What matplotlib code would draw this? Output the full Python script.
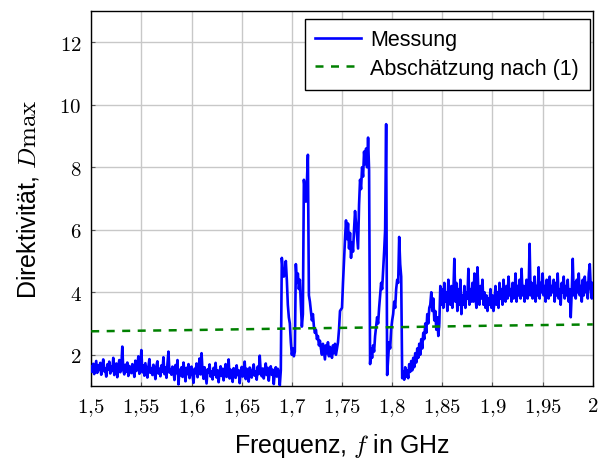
import numpy as np
import matplotlib
matplotlib.use("Agg")
import matplotlib.pyplot as plt

plt.rcParams['font.family'] = ['Liberation Sans', 'DejaVu Sans']
plt.rcParams['mathtext.fontset'] = 'cm'

# measured directivity, one value per MHz from 1,500 to 2,000 GHz
d_meas = [
    # 1.50 - 1.689
    1.62, 1.45, 1.71, 1.38, 1.58, 1.80, 1.42, 1.66, 1.51, 1.74,
    1.36, 1.60, 1.85, 1.47, 1.55, 1.30, 1.69, 1.52, 1.78, 1.40,
    1.63, 1.48, 1.90, 1.35, 1.57, 1.72, 1.28, 1.61, 1.83, 1.44,
    1.59, 2.26, 1.50, 1.37, 1.68, 1.46, 1.75, 1.32, 1.64, 1.52,
    1.41, 1.70, 1.55, 1.29, 1.81, 1.48, 1.62, 1.95, 1.39, 1.58,
    2.15, 1.44, 1.66, 1.33, 1.73, 1.50, 1.27, 1.61, 1.86, 1.42,
    1.57, 1.35, 1.68, 1.49, 1.22, 1.64, 1.79, 1.40, 1.55, 1.31,
    1.66, 1.45, 1.92, 1.38, 1.59, 1.26, 1.71, 2.10, 1.43, 1.54,
    1.36, 1.62, 1.48, 1.19, 1.67, 1.41, 1.83, 1.05, 1.52, 1.34,
    1.60, 1.29, 1.75, 1.44, 1.15, 1.58, 1.38, 1.70, 1.25, 1.49,
    1.62, 1.34, 1.10, 1.55, 1.41, 1.72, 1.28, 1.51, 1.88, 1.37,
    2.05, 1.46, 1.23, 1.60, 1.35, 1.08, 1.53, 1.42, 1.69, 1.30,
    1.47, 1.21, 1.58, 1.36, 1.74, 1.27, 1.50, 1.12, 1.44, 1.63,
    1.32, 1.55, 1.18, 1.48, 1.70, 1.29, 1.41, 1.85, 1.24, 1.52,
    1.38, 1.13, 1.57, 1.45, 1.26, 1.66, 1.35, 1.50, 1.09, 1.43,
    1.61, 1.30, 1.48, 1.78, 1.22, 1.55, 1.37, 1.14, 1.59, 1.40,
    1.27, 1.52, 1.69, 1.33, 1.46, 1.20, 1.62, 1.38, 1.97, 1.44,
    1.31, 1.56, 1.24, 1.49, 1.72, 1.35, 1.58, 1.17, 1.47, 1.63,
    1.36, 1.52, 1.06, 1.45, 1.60, 1.30, 1.55, 1.41, 1.02, 1.50,
    # 1.69 - 1.749
    5.10, 4.70, 4.50, 4.60, 5.00, 4.40, 3.60, 3.20, 3.00, 2.40,
    2.00, 2.20, 1.95, 2.10, 4.90, 4.30, 4.60, 4.10, 4.40, 3.60,
    2.90, 3.30, 7.60, 7.30, 6.90, 7.50, 8.40, 3.90, 3.70, 3.40,
    3.10, 3.30, 2.90, 2.70, 2.80, 2.50, 2.60, 2.30, 2.45, 2.20,
    2.00, 2.35, 2.10, 1.85, 2.30, 2.05, 2.40, 1.95, 2.25, 2.10,
    1.90, 2.30, 2.05, 2.35, 2.00, 2.20, 2.40, 2.80, 3.40, 3.45,
    # 1.75 - 1.849
    3.50, 4.30, 5.00, 5.70, 6.30, 5.70, 6.20, 5.40, 5.90, 5.10,
    5.60, 5.30, 6.00, 6.60, 6.20, 5.80, 5.40, 6.80, 7.60, 7.30,
    8.00, 7.70, 8.50, 8.10, 8.60, 8.00, 8.95, 7.90, 1.70, 2.20,
    1.90, 2.30, 2.10, 2.60, 2.90, 3.20, 3.00, 3.50, 3.90, 4.30,
    4.10, 4.70, 5.30, 6.00, 9.38, 1.35, 1.90, 2.40, 2.20, 2.80,
    3.10, 3.30, 3.70, 3.50, 4.10, 4.40, 4.30, 5.77, 4.90, 4.50,
    1.25, 1.45, 1.20, 1.60, 1.30, 1.50, 1.25, 1.70, 1.45, 1.80,
    1.50, 1.90, 1.60, 2.05, 1.75, 2.20, 1.90, 2.35, 2.00, 2.50,
    2.20, 2.70, 2.50, 3.00, 2.70, 3.30, 3.00, 3.50, 3.60, 4.00,
    3.40, 3.80, 3.10, 3.40, 2.80, 3.20, 2.60, 3.00, 4.20, 3.60,
    # 1.85 - 2.00
    4.10, 3.50, 4.30, 3.70, 4.00, 3.40, 4.40, 3.80, 3.60, 4.20,
    3.50, 4.00, 5.07, 3.70, 4.30, 3.40, 4.10, 3.60, 4.40, 3.30,
    3.90, 3.60, 4.20, 3.50, 4.00, 3.80, 4.75, 3.60, 4.10, 3.70,
    4.30, 3.70, 4.60, 3.90, 3.50, 4.80, 4.00, 3.60, 4.20, 3.80,
    4.40, 3.60, 4.00, 3.50, 3.90, 3.40, 3.80, 3.60, 4.10, 3.50,
    3.90, 3.40, 3.70, 4.20, 3.60, 4.00, 3.50, 4.30, 3.80, 4.10,
    3.60, 4.40, 3.90, 3.70, 4.20, 3.80, 4.50, 3.90, 4.10, 3.70,
    4.30, 3.80, 4.00, 4.60, 3.70, 4.20, 3.90, 4.40, 3.80, 4.75,
    3.90, 4.20, 3.70, 4.10, 4.40, 3.80, 4.00, 5.55, 3.90, 4.30,
    3.80, 4.10, 4.50, 3.70, 4.20, 3.90, 4.80, 3.80, 4.30, 4.00,
    4.60, 3.90, 4.20, 3.70, 4.40, 4.00, 3.80, 4.50, 3.90, 4.20,
    4.00, 4.40, 3.70, 4.30, 3.90, 4.60, 3.80, 4.10, 3.60, 4.30,
    4.00, 4.50, 3.80, 4.20, 3.90, 4.40, 3.70, 4.10, 3.20, 4.00,
    5.07, 3.90, 4.30, 3.80, 4.40, 4.00, 4.60, 3.90, 4.20, 3.70,
    4.40, 3.90, 4.50, 4.00, 4.30, 3.80, 4.60, 4.90, 4.10, 3.80,
    4.30,
]
f_meas = np.linspace(1.5, 2.0, len(d_meas))

# estimate after eq. (1)
f_est = [1.5, 1.6, 1.7, 1.8, 1.9, 2.0]
d_est = [2.75, 2.79, 2.84, 2.88, 2.93, 2.97]

xticks = [1.5, 1.55, 1.6, 1.65, 1.7, 1.75, 1.8, 1.85, 1.9, 1.95, 2.0]
xlabels = [r'$1{,}5$', r'$1{,}55$', r'$1{,}6$', r'$1{,}65$', r'$1{,}7$', r'$1{,}75$',
           r'$1{,}8$', r'$1{,}85$', r'$1{,}9$', r'$1{,}95$', r'$2$']
yticks = [2, 4, 6, 8, 10, 12]
ylabels = [r'$2$', r'$4$', r'$6$', r'$8$', r'$10$', r'$12$']

fig = plt.figure(figsize=(6, 4.64), dpi=100)
ax = fig.add_axes([0.152, 0.166, 0.836, 0.808])

ax.plot(f_meas, d_meas, color='#0000ff', lw=1.9, label='Messung', zorder=3)
ax.plot(f_est, d_est, color='#008000', lw=1.8, linestyle=(0, (3.2, 3.0)),
        label='Abschätzung nach (1)', zorder=4)

ax.set_xlim(1.5, 2.0)
ax.set_ylim(1, 13)
ax.set_xticks(xticks)
ax.set_xticklabels(xlabels, fontsize=15)
ax.set_yticks(yticks)
ax.set_yticklabels(ylabels, fontsize=15)
ax.tick_params(direction='in', length=3, width=0.8, colors='#555555', labelcolor='black', pad=7)
ax.grid(True, color='#c8c8c8', lw=1)
ax.set_axisbelow(True)
for s in ax.spines.values():
    s.set_linewidth(1)
    s.set_color('black')

ax.set_xlabel(r'Frequenz, $f$ in GHz', fontsize=18, labelpad=10)
ax.set_ylabel(r'Direktivität, $D\mathrm{max}$', fontsize=18, labelpad=13)

leg = ax.legend(loc='upper right', bbox_to_anchor=(0.994, 0.98), borderaxespad=0,
                fontsize=15.5, fancybox=False, framealpha=1, edgecolor='black',
                handlelength=2.1, borderpad=0.5, labelspacing=0.35, handletextpad=0.45)
leg.get_frame().set_linewidth(1)

fig.savefig('out.png', dpi=100)
